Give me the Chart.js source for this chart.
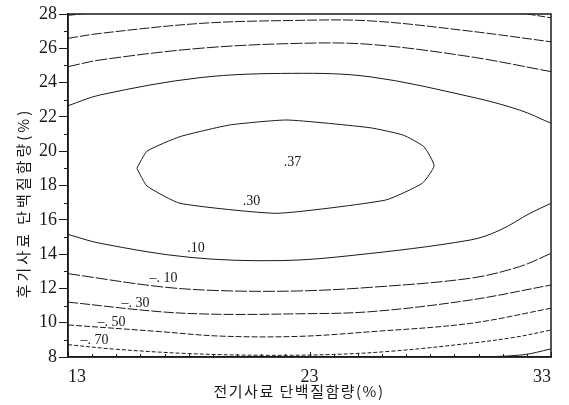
<!DOCTYPE html>
<html>
<head>
<meta charset="utf-8">
<script src="https://cdn.jsdelivr.net/npm/chart.js@4/dist/chart.umd.min.js"></script>
<style>
  html, body { margin: 0; padding: 0; background: #fff; }
  #wrap { width: 569px; height: 405px; }
</style>
</head>
<body>
<div id="wrap"><canvas id="c" width="569" height="405"></canvas></div>
<script>
// axis ranges and tick labels
const xRange = [13, 33];
const yRange = [8, 28];
const xTickLabels = [13, 23, 33];
const yTickLabels = [8, 10, 12, 14, 16, 18, 20, 22, 24, 26, 28];

// contour lines, [x, y]
const ring30 = [[15.85, 19.0], [16.27, 20.0], [17.64, 20.85], [19.7, 21.53], [22.07, 21.82],
  [25.5, 21.37], [26.88, 20.94], [27.74, 20.26], [28.16, 19.15], [27.67, 18.13], [26.15, 17.15],
  [21.66, 16.38], [17.64, 16.96], [16.27, 17.97], [15.85, 19.0]];
const top10 = [[13, 22.65], [14.33, 23.28], [18.47, 24.29], [22.3, 24.54], [25.5, 24.34],
  [29.65, 23.18], [31.7, 22.4], [33, 21.63]];
const top_10 = [[13, 24.93], [14.33, 25.32], [18.47, 26.0], [22.6, 26.29], [25.5, 26.23],
  [29.65, 25.51], [33, 24.64]];
const top_30 = [[13, 26.58], [14.33, 26.87], [18.47, 27.45], [22.2, 27.62], [25.5, 27.6],
  [29.65, 27.0], [33, 26.38]];
const top_50 = [[13, 27.92], [14.5, 28.12], [23, 28.4], [31.6, 28.05], [33, 27.78]];
const bottom10 = [[13, 15.15], [14.33, 14.63], [18.05, 13.81], [21.78, 13.62], [24.88, 13.94],
  [29.65, 14.82], [30.89, 15.4], [32.13, 16.38], [33, 16.96]];
const bottom_10 = [[13, 12.86], [16.81, 12.1], [19.29, 11.87], [22.5, 11.85], [25.5, 12.06],
  [29.65, 12.59], [31.7, 13.27], [33, 14.04]];
const bottom_30 = [[13, 11.2], [16.81, 10.64], [19.29, 10.49], [22.5, 10.52], [25.5, 10.64],
  [29.65, 11.32], [33, 12.2]];
const bottom_50 = [[13, 9.87], [16.81, 9.48], [19.29, 9.22], [22.5, 9.2], [25.5, 9.47],
  [29.65, 9.96], [33, 10.84]];
const bottom_70 = [[13, 8.72], [15, 8.45], [18, 8.2], [21, 8.1], [24, 8.15], [26.5, 8.35],
  [29.65, 8.8], [31.5, 9.15], [33, 9.57]];
const bottom_90 = [[29.5, 7.98], [31.8, 8.12], [33, 8.47]];

// contour value labels
const labelText = ['.37', '.30', '.10', '\u2013. 10', '\u2013. 30', '\u2013. 50', '\u2013. 70'];
const labelX = [22.3, 20.6, 18.3, 16.95, 15.8, 14.8, 14.1];
const labelY = [19.35, 17.1, 14.35, 12.6, 11.15, 10.05, 9.0];

const ink = '#1a1a1a';

function line(points, dash, tension) {
  return {
    data: points.map(p => ({ x: p[0], y: p[1] })),
    showLine: true,
    borderColor: ink,
    borderWidth: 1,
    borderDash: dash || [],
    pointRadius: 0,
    tension: tension === undefined ? 0.35 : tension
  };
}

const frameAndLabels = {
  id: 'frameAndLabels',
  afterDraw(chart) {
    const ctx = chart.ctx, a = chart.chartArea;
    const xs = chart.scales.x, ys = chart.scales.y;
    ctx.save();
    // box
    ctx.strokeStyle = ink;
    ctx.lineWidth = 1.5;
    ctx.strokeRect(a.left, a.top, a.right - a.left, a.bottom - a.top);
    // minor ticks
    ctx.lineWidth = 1;
    ctx.beginPath();
    for (let v = yRange[0] + 1; v < yRange[1]; v += 2) {
      const py = Math.round(ys.getPixelForValue(v)) + 0.5;
      ctx.moveTo(a.left - 4, py); ctx.lineTo(a.left, py);
    }
    for (let v = xRange[0] + 1; v < xRange[1]; v++) {
      const px = Math.round(xs.getPixelForValue(v)) + 0.5;
      ctx.moveTo(px, a.bottom); ctx.lineTo(px, a.bottom - 3);
    }
    xTickLabels.forEach(v => {
      const px = Math.round(xs.getPixelForValue(v)) + 0.5;
      ctx.moveTo(px, a.bottom); ctx.lineTo(px, a.bottom - 5);
    });
    ctx.stroke();

    // contour labels
    ctx.fillStyle = ink;
    ctx.font = '14px "Liberation Serif", serif';
    ctx.textAlign = 'center';
    ctx.textBaseline = 'middle';
    labelText.forEach((t, i) => {
      ctx.fillText(t, xs.getPixelForValue(labelX[i]), ys.getPixelForValue(labelY[i]));
    });

    // axis titles
    ctx.font = '15px "Noto Sans CJK KR", sans-serif';
    ctx.letterSpacing = '1.5px';
    ctx.fillText('전기사료 단백질함량(%)', 299, 391);
    ctx.translate(23, 203);
    ctx.rotate(-Math.PI / 2);
    ctx.letterSpacing = '3px';
    ctx.fillText('후기사료 단백질함량(%)', 0, 0);
    ctx.restore();
  }
};

new Chart(document.getElementById('c'), {
  type: 'scatter',
  data: {
    datasets: [
      line(ring30, [], 0.15),
      line(top10),
      line(top_10, [12, 2]),
      line(top_30, [10, 2]),
      line(top_50, [8, 2]),
      line(bottom10),
      line(bottom_10, [12, 2]),
      line(bottom_30, [10, 2]),
      line(bottom_50, [6, 2]),
      line(bottom_70, [4, 2]),
      line(bottom_90)
    ]
  },
  options: {
    responsive: false,
    animation: false,
    layout: { padding: { top: 14, right: 18, left: 0, bottom: 0 } },
    plugins: { legend: { display: false }, tooltip: { enabled: false } },
    scales: {
      x: {
        type: 'linear', min: xRange[0], max: xRange[1],
        afterFit(scale) { scale.height = 48; },
        afterBuildTicks(scale) { scale.ticks = xTickLabels.map(v => ({ value: v })); },
        grid: { display: false },
        border: { display: true, color: ink, width: 1.5 },
        ticks: {
          align: 'inner', padding: 1, color: ink,
          font: { family: '"Liberation Serif", serif', size: 18 }
        }
      },
      y: {
        type: 'linear', min: yRange[0], max: yRange[1],
        afterFit(scale) { scale.width = 68; },
        afterBuildTicks(scale) { scale.ticks = yTickLabels.map(v => ({ value: v })); },
        grid: { drawOnChartArea: false, tickLength: 9, color: ink },
        border: { display: true, color: ink, width: 1.5 },
        ticks: {
          padding: 2, color: ink,
          font: { family: '"Liberation Serif", serif', size: 18 }
        }
      }
    }
  },
  plugins: [frameAndLabels]
});
</script>
</body>
</html>
